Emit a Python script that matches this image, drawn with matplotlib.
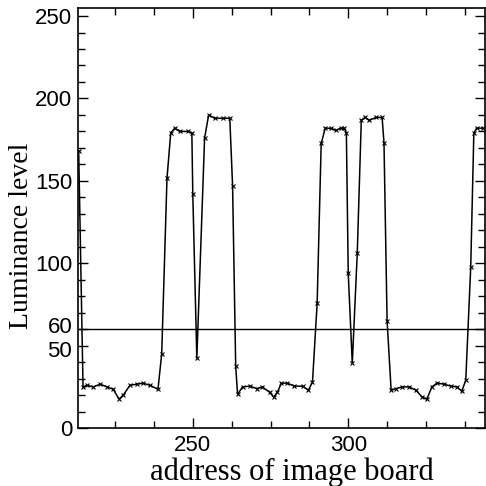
import numpy as np
import matplotlib
matplotlib.use('Agg')
import matplotlib.pyplot as plt
import matplotlib.transforms as mtransforms
from matplotlib.ticker import MultipleLocator

# 图像板地址 与 亮度
address = [213.3, 214.7, 216.0, 218.0, 220.2, 222.4, 224.4, 226.3, 227.6, 229.8,
           232.0, 234.0, 236.2, 238.8, 240.0, 241.7, 242.9, 244.2, 245.8, 248.4,
           249.7, 250.0, 251.3, 253.8, 255.1, 257.0, 259.6, 261.9, 262.8, 263.8,
           264.4, 266.0, 268.3, 270.5, 272.4, 274.7, 276.0, 277.2, 278.5, 280.4,
           282.7, 285.3, 287.2, 288.5, 290.0, 291.3, 292.6, 294.6, 296.0, 297.8,
           298.7, 299.4, 300.0, 301.3, 302.9, 304.2, 305.4, 306.7, 309.0, 310.9,
           311.5, 312.5, 313.8, 315.4, 317.3, 319.6, 321.8, 323.7, 325.3, 326.9,
           328.5, 330.8, 333.0, 335.0, 336.5, 337.8, 339.4, 340.4, 341.3, 343.5]
luminance = [168, 24.8, 26, 25, 26.7, 25, 23.6, 17.6, 20, 26,
             26.7, 27.3, 26, 23.6, 45, 151.5, 179, 182, 180, 180,
             179, 142, 42.4, 176, 190, 188, 188, 188, 147, 37.6,
             20.6, 25, 25.5, 24, 25, 21.8, 18.8, 21.8, 27.3, 27.3,
             25.5, 25.5, 23, 28, 75.8, 172.7, 182, 181.8, 180.6, 182,
             182, 179, 94, 39.4, 106, 186.7, 188.5, 186.7, 188.5, 188.5,
             173, 65, 23, 24, 25, 25, 23, 19, 17.6, 25,
             27.3, 26.7, 25.5, 25, 22.4, 29, 97.6, 179, 182, 182]
threshold = 60
yticks = [0, 50, 60, 100, 150, 200, 250]
xticks = [250, 300]

fig = plt.figure(figsize=(4.86, 4.86), dpi=100)
ax = fig.add_axes([0.16, 0.119, 0.838, 0.865])

ax.plot(address, luminance, color='black', linewidth=1.1,
        marker='x', markersize=3, markeredgewidth=0.8)
ax.axhline(threshold, color='black', linewidth=1.0)

ax.set_xlim(213, 344)
ax.set_ylim(0, 255)

ax.set_yticks(yticks)
ax.set_xticks(xticks)
ax.yaxis.set_minor_locator(MultipleLocator(10))
ax.xaxis.set_minor_locator(MultipleLocator(12.5))
ax.tick_params(which='both', direction='in', top=True, right=True)
ax.tick_params(which='major', length=7, width=1.0, labelsize=16)
ax.tick_params(axis='y', which='major', pad=4)
ax.tick_params(axis='x', which='major', pad=5)
ax.tick_params(which='minor', length=5, width=1.0)
for lab in ax.get_xticklabels() + ax.get_yticklabels():
    lab.set_family('Liberation Sans')

# 60 和 50 挨得很近, 稍微错开
ylabs = ax.get_yticklabels()
ylabs[2].set_transform(ylabs[2].get_transform() +
                       mtransforms.ScaledTranslation(0, 3 / 72, fig.dpi_scale_trans))
ylabs[1].set_transform(ylabs[1].get_transform() +
                       mtransforms.ScaledTranslation(0, -2 / 72, fig.dpi_scale_trans))

for s in ax.spines.values():
    s.set_linewidth(1.2)

ax.set_xlabel('address of image board', family='Liberation Serif', fontsize=22, labelpad=1)
ax.set_ylabel('Luminance level', family='Liberation Serif', fontsize=20, labelpad=1)
ax.xaxis.label.set_x(0.525)
ax.yaxis.label.set_y(0.457)

fig.savefig('out.png', dpi=100)
